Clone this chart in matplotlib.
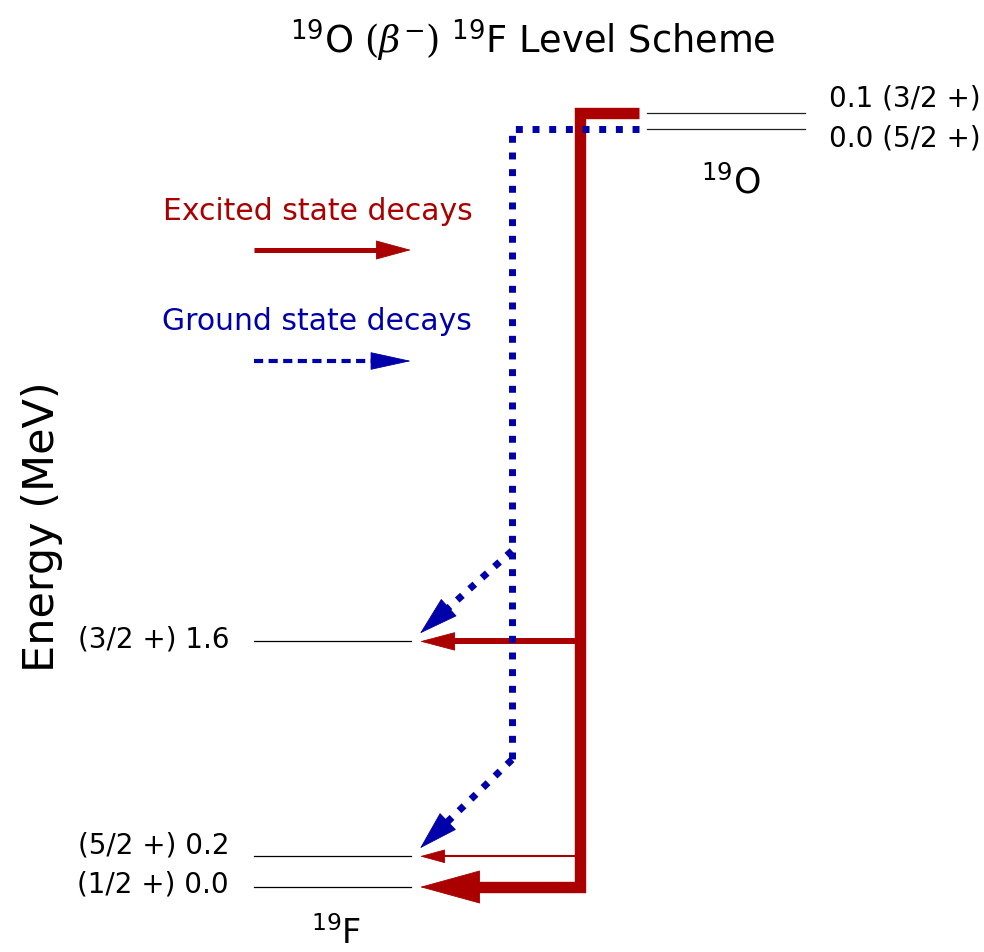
import numpy as np
import matplotlib
matplotlib.use("Agg")
import matplotlib.pyplot as plt

plt.rcParams['font.family'] = ['DejaVu Sans']
plt.rcParams['mathtext.fontset'] = 'custom'
plt.rcParams['mathtext.rm'] = 'DejaVu Serif'
plt.rcParams['mathtext.it'] = 'DejaVu Serif:italic'
plt.rcParams['mathtext.sf'] = 'DejaVu Sans'

# level energies in MeV
parent_levels = [0.0, 0.1]
parent_spins = ["(5/2 +)", "(3/2 +)"]
daughter_levels = [0.0, 0.2, 1.6]
daughter_spins = ["(1/2 +)", "(5/2 +)", "(3/2 +)"]
parent_offset = 4.94          # height of the 19O ground state on the energy axis

# decays from the 19O excited (0.1) state, arrow width in pt
excited_to = [1.6, 0.2, 0.0]
excited_lw = [4.3, 1.5, 8.2]
excited_head = [(33, 8.7), (23, 6.3), (58, 16)]   # head length, half width (px)
# decays from the 19O ground state, energy where the dotted path branches off
ground_to = [1.6, 0.2]
ground_branch = [2.19, 0.83]

red = '#aa0000'
blue = '#0000aa'

W, H = 984, 952
fig = plt.figure(figsize=(W / 100, H / 100), dpi=100)
ax = fig.add_axes([0, 0, 1, 1])
px_per_mev = 153.5
y_bot = (887 - H) / px_per_mev
y_top = 887 / px_per_mev
ax.set_xlim(0, W)
ax.set_ylim(y_bot, y_top)
ax.axis('off')


def yp(py):
    # pixel row -> energy axis value (for layout only)
    return y_top - py / px_per_mev


def head(tip, base, hl, hw, color):
    pt = 72 / 100
    ax.annotate("", xy=tip, xytext=base,
                arrowprops=dict(arrowstyle=f"-|>,head_length={hl * pt},head_width={hw * pt}",
                                mutation_scale=1, lw=0.6, color=color,
                                shrinkA=0, shrinkB=0))


# level lines
for e in daughter_levels:
    ax.plot([254, 411], [e, e], color='black', lw=0.9)
for e in parent_levels:
    ax.plot([647, 805], [parent_offset + e] * 2, color='#222222', lw=0.9)

# level labels
d_dy = {0.0: -6, 0.2: 3, 1.6: -6}
for e, s in zip(daughter_levels, daughter_spins):
    ax.annotate(f"{s} {e:.1f}", xy=(229, e), xytext=(0, d_dy[e] * 0.72),
                textcoords='offset points', ha='right', va='baseline', fontsize=20)
p_dy = {0.0: -18, 0.1: 7}
for e, s in zip(parent_levels, parent_spins):
    ax.annotate(f"{e:.1f} {s}", xy=(829, parent_offset + e), xytext=(0, p_dy[e] * 0.72),
                textcoords='offset points', ha='left', va='baseline', fontsize=20)

# excited state path: top bar, vertical, bottom arrow
x_v = 580
e_top = parent_offset + parent_levels[1]
ax.plot([639, x_v, x_v, 470], [e_top, e_top, excited_to[2], excited_to[2]],
        color=red, lw=excited_lw[2], solid_joinstyle='miter', solid_capstyle='butt')
for e, lw, (hl, hw) in zip(excited_to, excited_lw, excited_head):
    if e != excited_to[2]:
        ax.plot([x_v, 420 + hl - 6], [e, e], color=red, lw=lw, solid_capstyle='butt')
    head((420, e), (420 + hl, e), hl, hw, red)

# ground state path: dotted
x_b = 512
e_g = parent_offset + parent_levels[0]
ax.plot([639, x_b, x_b], [e_g, e_g, ground_branch[1]], color=blue, lw=5,
        linestyle=(0, (1, 1.4)), dash_capstyle='butt', solid_joinstyle='miter')
for e, eb in zip(ground_to, ground_branch):
    tip = np.array([420.0, e + 8 / px_per_mev])
    d = np.array([x_b - tip[0], (eb - tip[1]) * px_per_mev])
    u = d / np.hypot(*d)
    base = tip + np.array([u[0], u[1] / px_per_mev]) * 37
    inner = tip + np.array([u[0], u[1] / px_per_mev]) * 30
    ax.plot([x_b, inner[0]], [eb, inner[1]], color=blue, lw=5,
            linestyle=(0, (1, 1.4)), dash_capstyle='butt')
    head(tuple(tip), tuple(base), 37, 11, blue)

# legend
ax.text(163, yp(220), "Excited state decays", color=red, fontsize=21.5, va='baseline')
ax.plot([254, 380], [yp(250)] * 2, color=red, lw=3.6, solid_capstyle='butt')
head((411, yp(250)), (378, yp(250)), 33, 9, red)
ax.text(162, yp(330), "Ground state decays", color=blue, fontsize=21.5, va='baseline')
ax.plot([254, 376], [yp(361)] * 2, color=blue, lw=3, linestyle=(0, (2.2, 1.3)),
        dash_capstyle='butt')
head((411, yp(361)), (373, yp(361)), 38, 8.3, blue)

# nuclide names, title, axis label
ax.text(701, yp(194), r"$^{\mathsf{19}}$O", fontsize=25, va='baseline')
ax.text(311, yp(944), r"$^{\mathsf{19}}$F", fontsize=24, va='baseline')
ax.text(533, yp(53), r"$^{\mathsf{19}}$O $(\beta^{-})$ $^{\mathsf{19}}$F Level Scheme",
        fontsize=26.5, ha='center', va='baseline')
ax.text(42, yp(527), "Energy (MeV)", fontsize=31, rotation=90, ha='center', va='center')

fig.savefig("out.png", dpi=100)
